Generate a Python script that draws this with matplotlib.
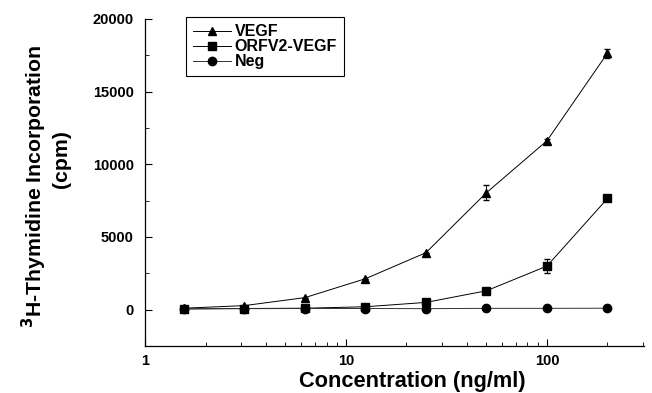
import matplotlib
matplotlib.use("Agg")
import matplotlib.pyplot as plt
from matplotlib.lines import Line2D
from matplotlib.ticker import LogLocator, FixedLocator, NullFormatter, FuncFormatter

plt.rcParams['font.family'] = ['Liberation Sans', 'DejaVu Sans']
plt.rcParams['font.weight'] = 'bold'

conc = [1.5625, 3.125, 6.25, 12.5, 25, 50, 100, 200]
vegf = [100, 280, 830, 2130, 3920, 8050, 11620, 17650]
vegf_err = [0, 0, 0, 0, 0, 500, 150, 300]
orfv2 = [50, 80, 100, 200, 500, 1300, 3000, 7650]
orfv2_err = [0, 0, 0, 0, 0, 0, 500, 0]
neg = [60, 70, 80, 80, 70, 90, 90, 100]
labels = ['VEGF', 'ORFV2-VEGF', 'Neg']

W, H = 652, 393
fig = plt.figure(figsize=(W / 100, H / 100), dpi=100)
ax = fig.add_axes([145 / W, 1 - 346 / H, 499 / W, 327 / H])

ms = 6
styles = [('^', ms, 'black'), ('s', ms - 0.5, 'black'), ('o', ms, '#333333')]
series = [(vegf, vegf_err), (orfv2, orfv2_err), (neg, None)]
handles = []
for (vals, err), (mk, m, lc), lab in zip(series, styles, labels):
    ax.errorbar(conc, vals, yerr=err, color=lc, lw=0.7, marker=mk, ms=m,
                mfc='black', mec='black', capsize=2.5, elinewidth=0.7, ecolor='black')
    handles.append(Line2D([], [], color=lc, lw=0.7, marker=mk, ms=m,
                          mfc='black', mec='black', label=lab))

ax.set_xscale('log')
ax.set_xlim(1, 304)
ax.set_ylim(-2500, 20000)
ax.set_xticks([1, 10, 100])
ax.xaxis.set_major_formatter(FuncFormatter(lambda v, p: f"{int(round(v))}"))
ax.xaxis.set_minor_locator(LogLocator(base=10, subs=range(2, 10)))
ax.xaxis.set_minor_formatter(NullFormatter())
ax.set_yticks([0, 5000, 10000, 15000, 20000])
ax.yaxis.set_minor_locator(FixedLocator([-2500, 2500, 7500, 12500, 17500]))

for s in ['top', 'right']:
    ax.spines[s].set_visible(False)
for s in ['left', 'bottom']:
    ax.spines[s].set_linewidth(0.9)

ax.tick_params(axis='both', which='major', direction='in', length=5, width=0.8,
               labelsize=10.5)
ax.tick_params(axis='y', which='major', pad=8)
ax.tick_params(axis='x', which='major', pad=6)
ax.tick_params(axis='both', which='minor', direction='in', length=3, width=0.6)
for lab in ax.get_xticklabels() + ax.get_yticklabels():
    lab.set_fontweight('bold')

fig.text(412 / W, 1 - 387 / H, 'Concentration (ng/ml)', fontsize=15.7,
         fontweight='bold', ha='center', va='baseline')
fig.text(34 / W, 1 - 186 / H, '$^{\\mathbf{3}}$H-Thymidine Incorporation',
         fontsize=15.3, fontweight='bold', rotation=90, ha='center', va='center')
fig.text(61 / W, 1 - 159 / H, '(cpm)', fontsize=15.3, fontweight='bold',
         rotation=90, ha='center', va='center')

leg = ax.legend(handles=handles, loc='upper left', bbox_to_anchor=(0.082, 1.006),
                fontsize=11.5, frameon=True, fancybox=False, edgecolor='black',
                framealpha=1, handlelength=2.4, handletextpad=0.2, labelspacing=0.0,
                borderpad=0.45, borderaxespad=0)
leg.get_frame().set_linewidth(0.8)
for t in leg.get_texts():
    t.set_fontweight('bold')

fig.savefig('out.png', dpi=100)
